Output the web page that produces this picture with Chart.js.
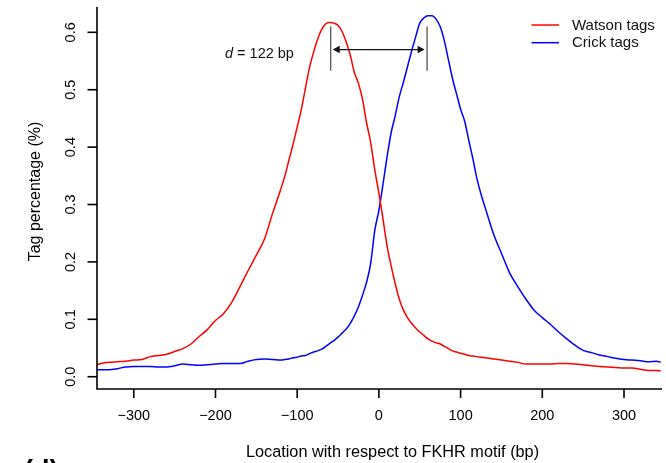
<!DOCTYPE html>
<html>
<head>
<meta charset="utf-8">
<script src="https://cdn.jsdelivr.net/npm/chart.js@4.4.1/dist/chart.umd.min.js"></script>
<style>
html,body{margin:0;padding:0;background:#fff;}
#wrap{width:666px;height:463px;position:relative;}
</style>
</head>
<body>
<div id="wrap"><canvas id="c" width="666" height="463"></canvas></div>
<script>
// ---- data ----
const positions = [-345,-340,-330,-320,-310,-300,-290,-280,-270,-260,-250,-240,-230,-220,-210,-200,-190,-180,-170,-160,-150,-140,-130,
  -120,-115,-110,-105,-100,-95,-90,-85,-80,-75,-70,-65,-60,-55,-50,-45,-40,-35,-30,-25,-20,-15,-10,-5,
  0,5,10,15,20,25,30,35,40,45,50,55,60,65,70,75,80,85,90,95,100,105,110,115,120,125,130,
  140,150,160,170,180,190,200,210,220,230,240,250,260,270,280,290,300,310,320,330,340,345];
const watson = [0.021,0.023,0.025,0.026,0.027,0.029,0.030,0.035,0.037,0.039,0.044,0.049,0.057,0.070,0.082,0.098,0.110,0.130,0.157,0.185,0.212,0.240,0.285,
  0.327,0.350,0.378,0.405,0.435,0.465,0.502,0.538,0.565,0.588,0.605,0.615,0.617,0.616,0.612,0.601,0.583,0.560,0.530,0.511,0.483,0.442,0.408,0.360,
  0.320,0.275,0.228,0.193,0.162,0.135,0.116,0.103,0.093,0.085,0.078,0.072,0.066,0.062,0.059,0.057,0.053,0.049,0.045,0.043,0.041,0.039,0.037,0.036,0.035,0.034,0.033,
  0.031,0.029,0.027,0.025,0.022,0.022,0.022,0.022,0.023,0.023,0.022,0.021,0.019,0.018,0.017,0.016,0.015,0.015,0.013,0.011,0.011,0.010];
const crick = [0.012,0.012,0.012,0.014,0.017,0.018,0.018,0.018,0.017,0.017,0.019,0.022,0.021,0.020,0.021,0.022,0.023,0.023,0.023,0.027,0.030,0.031,0.030,
  0.029,0.030,0.031,0.033,0.034,0.036,0.037,0.040,0.043,0.045,0.048,0.053,0.058,0.063,0.069,0.076,0.083,0.093,0.106,0.122,0.142,0.165,0.198,0.255,
  0.290,0.335,0.383,0.425,0.455,0.488,0.513,0.540,0.567,0.592,0.616,0.625,0.629,0.629,0.623,0.610,0.586,0.553,0.520,0.493,0.466,0.445,0.412,0.380,0.345,0.318,0.295,
  0.250,0.215,0.181,0.157,0.135,0.116,0.103,0.091,0.078,0.066,0.055,0.046,0.042,0.038,0.035,0.032,0.030,0.029,0.028,0.026,0.027,0.025];
const seriesNames = ["Watson tags","Crick tags"];
const xTicks = [-300,-200,-100,0,100,200,300];
const yTicks = [0.0,0.1,0.2,0.3,0.4,0.5,0.6];
const xTitle = "Location with respect to FKHR motif (bp)";
const yTitle = "Tag percentage (%)";
const peakMarks = [-59, 59];        // vertical markers (bp)
const markRange = [0.533, 0.610];   // marker vertical extent (%)
const arrowLevel = 0.570;           // arrow height (%)
const annotText = ["d", " = 122 bp"];
const panelLabel = "(d)";

const FONT = '"Liberation Sans", Arial, Helvetica, sans-serif';

const drawPlugin = {
  id: 'rstyle',
  afterDraw(chart) {
    const ctx = chart.ctx;
    const xs = chart.scales.x, ys = chart.scales.y;
    const a = chart.chartArea;
    ctx.save();
    ctx.strokeStyle = '#000';
    ctx.fillStyle = '#000';
    ctx.lineWidth = 1.6;
    // L-shaped axes
    ctx.beginPath();
    ctx.moveTo(a.left, a.top);
    ctx.lineTo(a.left, a.bottom);
    ctx.lineTo(a.right, a.bottom);
    ctx.stroke();
    // x ticks
    ctx.font = '14.5px ' + FONT;
    ctx.textAlign = 'center';
    ctx.textBaseline = 'middle';
    xTicks.forEach(v => {
      const px = xs.getPixelForValue(v);
      ctx.beginPath();
      ctx.moveTo(px, a.bottom);
      ctx.lineTo(px, a.bottom + 9);
      ctx.stroke();
      const lab = v < 0 ? '\u2212' + Math.abs(v) : String(v);
      ctx.fillText(lab, px, 415.5);
    });
    // y ticks
    yTicks.forEach(v => {
      const py = ys.getPixelForValue(v);
      ctx.beginPath();
      ctx.moveTo(a.left, py);
      ctx.lineTo(a.left - 9.5, py);
      ctx.stroke();
      ctx.save();
      ctx.translate(71, py);
      ctx.rotate(-Math.PI / 2);
      ctx.textAlign = 'center';
      ctx.textBaseline = 'middle';
      ctx.fillText(v.toFixed(1), 0, 0);
      ctx.restore();
    });
    // titles
    ctx.font = '16.3px ' + FONT;
    ctx.textAlign = 'center';
    ctx.textBaseline = 'alphabetic';
    ctx.fillText(xTitle, 392.5, 456.5);
    ctx.save();
    ctx.translate(40, 191.5);
    ctx.rotate(-Math.PI / 2);
    ctx.font = '16px ' + FONT;
    ctx.fillText(yTitle, 0, 0);
    ctx.restore();

    // legend
    const ds = chart.data.datasets;
    const legY = [25, 42.7];
    ctx.font = '15px ' + FONT;
    ctx.textAlign = 'left';
    ctx.textBaseline = 'middle';
    ds.forEach((d, i) => {
      ctx.strokeStyle = d.borderColor;
      ctx.lineWidth = 1.5;
      ctx.beginPath();
      ctx.moveTo(531.5, legY[i]);
      ctx.lineTo(559, legY[i]);
      ctx.stroke();
      ctx.fillStyle = '#111';
      ctx.fillText(d.label, 572, legY[i] + 0.5);
    });

    // annotation: peak markers and arrow
    ctx.strokeStyle = '#555';
    ctx.lineWidth = 1.3;
    const yTop = ys.getPixelForValue(markRange[1]);
    const yBot = ys.getPixelForValue(markRange[0]);
    const mx = peakMarks.map(v => xs.getPixelForValue(v));
    mx.forEach(px => {
      ctx.beginPath();
      ctx.moveTo(px, yTop);
      ctx.lineTo(px, yBot);
      ctx.stroke();
    });
    const ay = ys.getPixelForValue(arrowLevel);
    const x1 = mx[0] + 2, x2 = mx[1] - 2.5;
    ctx.strokeStyle = '#111';
    ctx.fillStyle = '#111';
    ctx.lineWidth = 1.3;
    ctx.beginPath();
    ctx.moveTo(x1 + 4, ay);
    ctx.lineTo(x2 - 4, ay);
    ctx.stroke();
    ctx.beginPath();
    ctx.moveTo(x1, ay); ctx.lineTo(x1 + 7, ay - 3.8); ctx.lineTo(x1 + 7, ay + 3.8); ctx.closePath(); ctx.fill();
    ctx.beginPath();
    ctx.moveTo(x2, ay); ctx.lineTo(x2 - 7, ay - 3.8); ctx.lineTo(x2 - 7, ay + 3.8); ctx.closePath(); ctx.fill();

    // annotation text
    ctx.fillStyle = '#111';
    ctx.textBaseline = 'middle';
    ctx.textAlign = 'left';
    ctx.font = 'italic 14.5px ' + FONT;
    const tx = 225;
    ctx.fillText(annotText[0], tx, 53.5);
    const w0 = ctx.measureText(annotText[0]).width;
    ctx.font = '14.5px ' + FONT;
    ctx.fillText(annotText[1], tx + w0, 53.5);

    // panel label
    ctx.font = 'bold 27px ' + FONT;
    ctx.textBaseline = 'alphabetic';
    ctx.fillStyle = '#000';
    ctx.fillText(panelLabel, 24, 479);
    ctx.restore();
  }
};

const chart = new Chart(document.getElementById('c'), {
  type: 'line',
  data: {
    datasets: [
      { label: seriesNames[0], data: positions.map((x, i) => ({x, y: watson[i]})), borderColor: '#ff0000', borderWidth: 1.5, pointRadius: 0, tension: 0.3, cubicInterpolationMode: 'monotone', fill: false },
      { label: seriesNames[1], data: positions.map((x, i) => ({x, y: crick[i]})), borderColor: '#0000ff', borderWidth: 1.5, pointRadius: 0, tension: 0.3, cubicInterpolationMode: 'monotone', fill: false }
    ]
  },
  options: {
    responsive: false,
    animation: false,
    devicePixelRatio: 1,
    layout: { padding: { left: 97, top: 7, right: 4, bottom: 74 } },
    plugins: { legend: { display: false }, tooltip: { enabled: false } },
    scales: {
      x: { type: 'linear', display: false, min: -345, max: 346.5 },
      y: { type: 'linear', display: false, min: -0.0214, max: 0.6441 }
    }
  },
  plugins: [drawPlugin]
});
</script>
</body>
</html>
